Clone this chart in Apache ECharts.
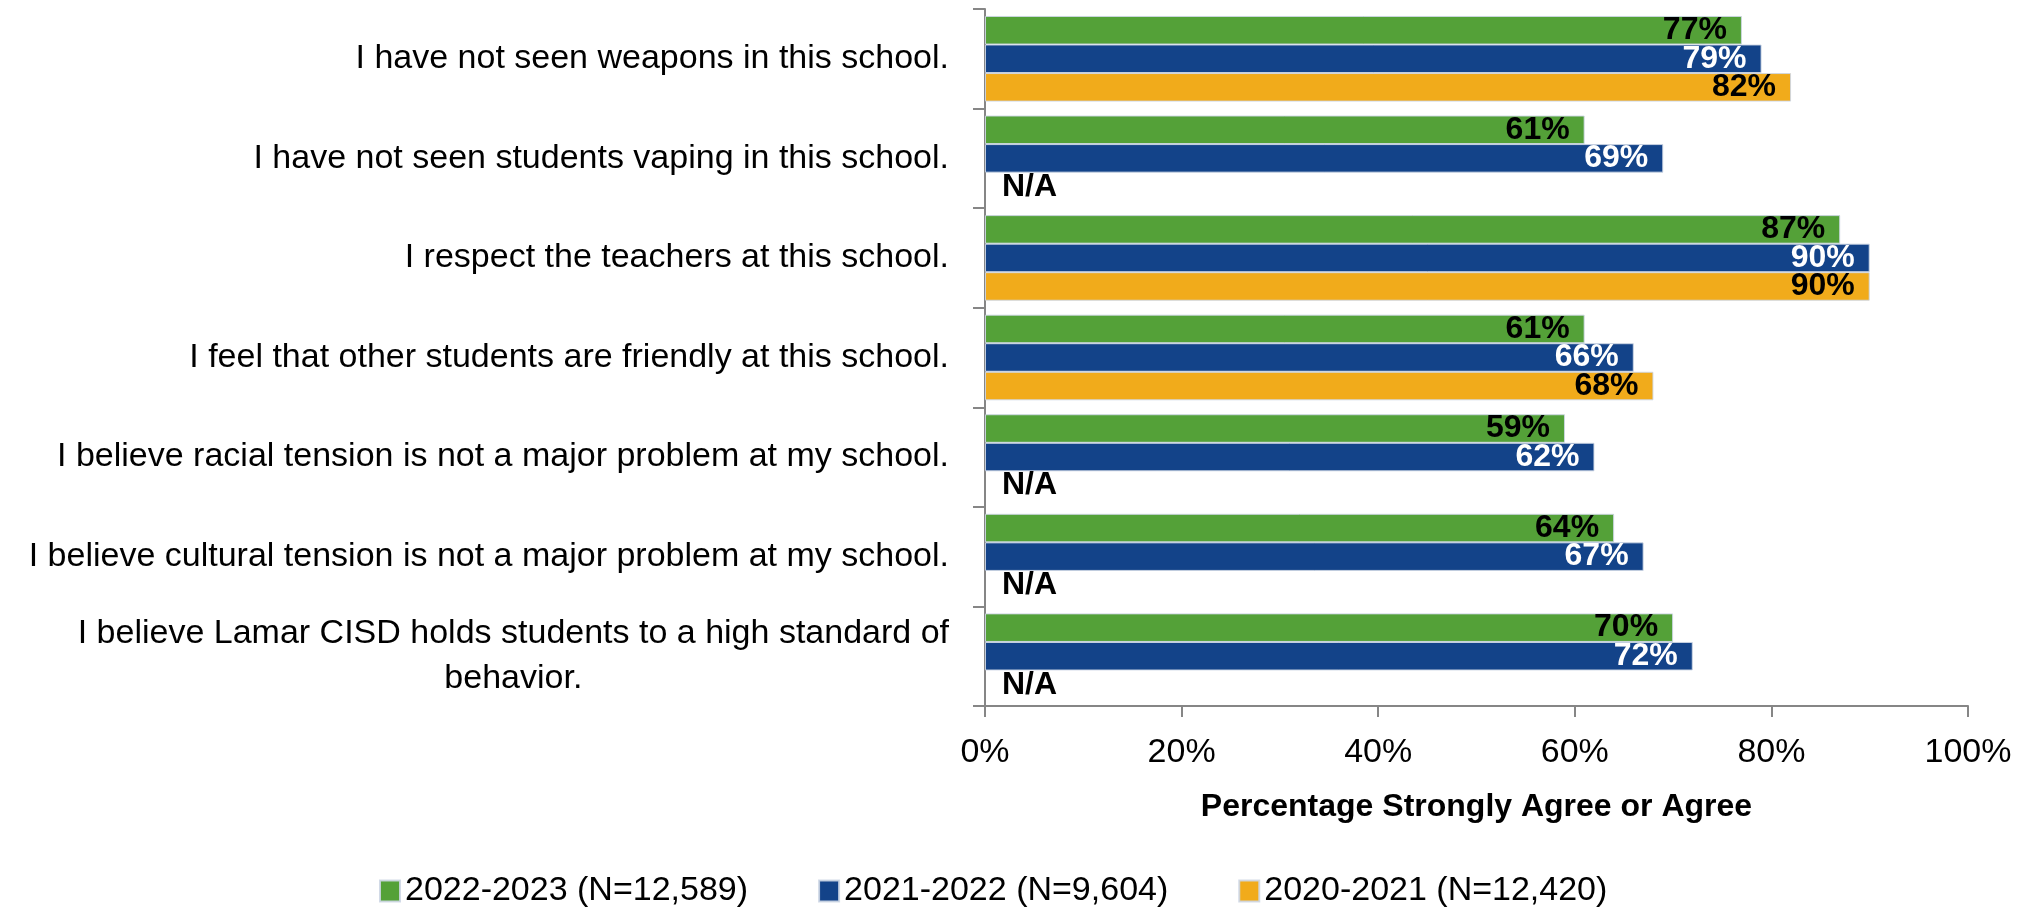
<!DOCTYPE html>
<html><head><meta charset="utf-8">
<script src="https://cdn.jsdelivr.net/npm/echarts@6/dist/echarts.min.js"></script>
<style>html,body{margin:0;padding:0;background:#fff}#chart{width:2033px;height:910px}</style>
</head><body><div id="chart"></div>
<script>
const categories = [
  'I have not seen weapons in this school.',
  'I have not seen students vaping in this school.',
  'I respect the teachers at this school.',
  'I feel that other students are friendly at this school.',
  'I believe racial tension is not a major problem at my school.',
  'I believe cultural tension is not a major problem at my school.',
  'I believe Lamar CISD holds students to a high standard of\nbehavior.'
];
const seriesNames = ['2022-2023 (N=12,589)', '2021-2022 (N=9,604)', '2020-2021 (N=12,420)'];
const values2022_2023 = [77, 61, 87, 61, 59, 64, 70];
const values2021_2022 = [79, 69, 90, 66, 62, 67, 72];
const values2020_2021 = [82, null, 90, 68, null, null, null];
const axisTitle = 'Percentage Strongly Agree or Agree';
const naText = 'N/A';

const FONT = '"Liberation Sans", Arial, sans-serif';
const colors = ['#54A138', '#134389', '#F1AB1B'];
const labelColors = ['#000000', '#ffffff', '#000000'];

function mkData(arr, idx) {
  return arr.map(v => v === null
    ? { value: 0, itemStyle: { borderWidth: 0 }, label: { position: 'right', distance: 17, formatter: naText, color: '#000' } }
    : v);
}

function mkSeries(name, arr, idx) {
  return {
    type: 'bar',
    name: name,
    data: mkData(arr, idx),
    barGap: '0%',
    barCategoryGap: '14%',
    itemStyle: { color: colors[idx], borderColor: 'rgba(205,214,228,0.9)', borderWidth: 1 },
    label: {
      show: true, position: 'insideRight', distance: 15,
      formatter: '{c}%', color: labelColors[idx],
      fontFamily: FONT, fontWeight: 'bold', fontSize: 32
    },
    emphasis: { disabled: true }
  };
}

const chart = echarts.init(document.getElementById('chart'), null, { renderer: 'canvas' });
chart.setOption({
  animation: false,
  backgroundColor: '#ffffff',
  textStyle: { fontFamily: FONT },
  color: colors,
  grid: { left: 985, right: 65, top: 9, bottom: 204, containLabel: false, outerBoundsMode: 'none' },
  legend: {
    left: 379, top: 874, padding: 0,
    itemWidth: 20, itemHeight: 21, itemGap: 70, icon: 'rect',
    textStyle: { fontFamily: FONT, fontSize: 34, color: '#000' },
    data: seriesNames
  },
  xAxis: {
    type: 'value', min: 0, max: 100, interval: 20,
    name: axisTitle, nameLocation: 'middle', nameGap: 85,
    nameTextStyle: { fontFamily: FONT, fontWeight: 'bold', fontSize: 32, color: '#000' },
    axisLine: { show: true, lineStyle: { color: '#868686', width: 2 } },
    axisTick: { show: true, length: 11, lineStyle: { color: '#868686', width: 2 } },
    splitLine: { show: false },
    axisLabel: { formatter: '{value}%', fontFamily: FONT, fontSize: 34, color: '#000', margin: 30 }
  },
  yAxis: {
    type: 'category', inverse: true, data: categories,
    axisLine: { show: true, lineStyle: { color: '#868686', width: 2 } },
    axisTick: { show: true, length: 12, inside: false, lineStyle: { color: '#868686', width: 2 } },
    axisLabel: {
      margin: 36, fontFamily: FONT, fontSize: 34, color: '#000',
      formatter: function (v) {
        if (v.indexOf('\n') >= 0) {
          return v.split('\n').map(s => '{c|' + s + '}').join('\n');
        }
        return v;
      },
      rich: { c: { align: 'center', fontFamily: FONT, fontSize: 34, color: '#000', lineHeight: 45 } }
    }
  },
  series: [
    mkSeries(seriesNames[0], values2022_2023, 0),
    mkSeries(seriesNames[1], values2021_2022, 1),
    mkSeries(seriesNames[2], values2020_2021, 2)
  ]
});
</script>
</body></html>
